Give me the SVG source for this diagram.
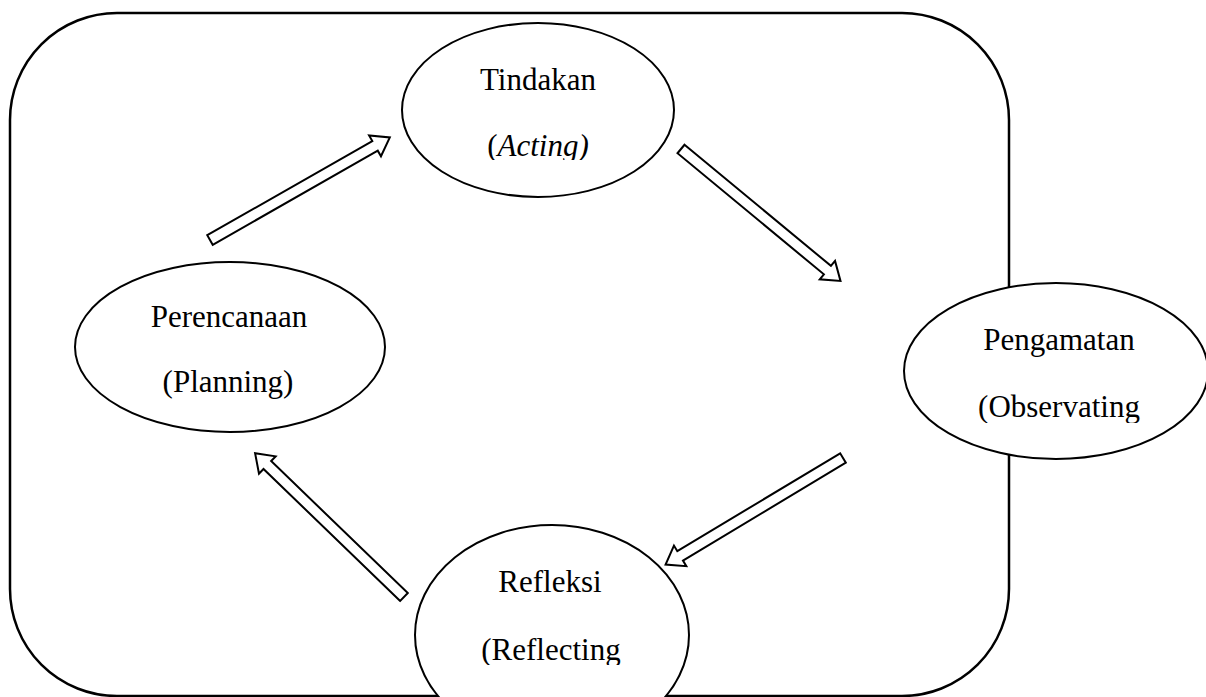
<svg xmlns="http://www.w3.org/2000/svg" width="1206" height="697" viewBox="0 0 1206 697">
<style>
.frame{fill:none;stroke:#000;stroke-width:2.5}
.node{fill:#fff;stroke:#000;stroke-width:2}
.arrow{fill:#fff;stroke:#000;stroke-width:2;stroke-linejoin:miter}
.lbl{font-family:"Liberation Serif","Times New Roman",serif;font-size:31px;fill:#000;text-anchor:middle}
.it{font-style:italic}
</style>
<defs>
<path id="blk" d="M0,-5.5 L190,-5.5 L190,-12 L207,0 L190,12 L190,5.5 L0,5.5 Z"/>
<clipPath id="cA"><rect x="400" y="0" width="300" height="160"/></clipPath>
<clipPath id="cP"><rect x="60" y="250" width="340" height="398"/></clipPath>
<clipPath id="cO"><rect x="900" y="250" width="306" height="173"/></clipPath>
<clipPath id="cR"><rect x="400" y="520" width="300" height="145"/></clipPath>
</defs>
<rect class="frame" x="10" y="13" width="999" height="683" rx="107" ry="107"/>
<g id="connectors">
<use href="#blk" class="arrow" transform="translate(210,240) rotate(-29.7)"/>
<use href="#blk" class="arrow" transform="translate(681,149) rotate(39.6)"/>
<use href="#blk" class="arrow" transform="translate(843,458) rotate(149)"/>
<use href="#blk" class="arrow" transform="translate(404,597) rotate(-136)"/>
</g>
<g id="tindakan">
<ellipse class="node" cx="538" cy="110" rx="136" ry="87"/>
<text class="lbl" x="538" y="90">Tindakan</text>
<text class="lbl" x="538" y="156" clip-path="url(#cA)">(<tspan class="it">Acting)</tspan></text>
</g>
<g id="perencanaan">
<ellipse class="node" cx="230" cy="347" rx="155" ry="85"/>
<text class="lbl" x="229" y="327">Perencanaan</text>
<text class="lbl" x="228" y="392" clip-path="url(#cP)">(Planning)</text>
</g>
<g id="pengamatan">
<ellipse class="node" cx="1056" cy="371" rx="152" ry="88"/>
<text class="lbl" x="1059" y="350">Pengamatan</text>
<text class="lbl" x="1059" y="417" clip-path="url(#cO)">(Observating</text>
</g>
<g id="refleksi">
<ellipse class="node" cx="552" cy="635" rx="137" ry="110"/>
<text class="lbl" x="550" y="592">Refleksi</text>
<text class="lbl" x="551" y="660" clip-path="url(#cR)">(Reflecting</text>
</g>
</svg>
